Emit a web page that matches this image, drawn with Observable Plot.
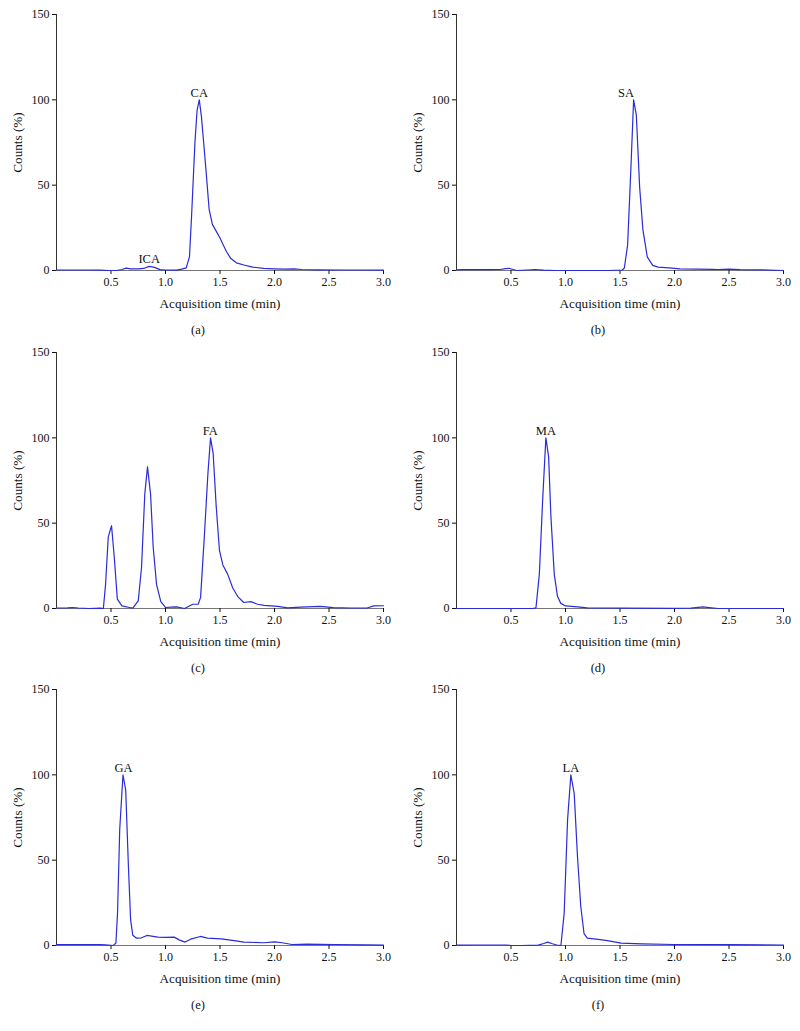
<!DOCTYPE html>
<html><head><meta charset="utf-8">
<script src="https://cdn.jsdelivr.net/npm/d3@7"></script>
<script src="https://cdn.jsdelivr.net/npm/@observablehq/plot@0.6"></script>
<style>
body{margin:0;background:#fff;font-family:"Liberation Serif",serif;}
#root{position:relative;width:800px;height:1031px;overflow:hidden;}
.panel{position:absolute;width:400px;height:340px;}
.cap{position:absolute;font-size:12.5px;color:#111;transform:translate(-50%,-50%);white-space:nowrap;}
.panel svg, .panel svg g, .panel svg text{font-family:"Liberation Serif",serif !important;}
.panel svg g[aria-label="x-axis tick label"], .panel svg g[aria-label="y-axis tick label"]{font-size:12px !important;}
.panel svg g[aria-label="x-axis label"], .panel svg g[aria-label="y-axis label"]{font-size:13.2px !important;}
</style></head><body><div id="root"></div>
<script>
// ---- data ----
const xTicks = [0.5, 1.0, 1.5, 2.0, 2.5, 3.0];
const yTicks = [0, 50, 100, 150];
const captions = ["(a)", "(b)", "(c)", "(d)", "(e)", "(f)"];

const timeA = [0,0.1,0.2,0.3,0.4,0.48,0.55,0.6,0.64,0.68,0.75,0.8,0.85,0.9,0.95,1.0,1.1,1.15,1.19,1.22,1.24,1.27,1.29,1.31,1.33,1.35,1.37,1.40,1.43,1.47,1.50,1.53,1.56,1.60,1.65,1.72,1.80,1.90,2.0,2.1,2.18,2.25,2.4,2.6,2.8,3.0];
const countsA = [0.3,0.3,0.3,0.3,0.2,0,0,0.6,1.4,1.0,1.0,1.2,2.4,1.8,0.5,0.3,0.2,0.8,1.5,8,33,75,94,100,90,75,60,36,27,22.5,19,15,11,7,4.5,3.2,2.0,1.3,1.0,0.8,1.0,0.6,0.4,0.3,0.3,0.2];
const labelsA = ["ICA", "CA"]; const labelTimeA = [0.85, 1.31]; const labelCountA = [2.5, 100];

const timeB = [0,0.05,0.15,0.3,0.4,0.45,0.48,0.52,0.55,0.65,0.72,0.8,0.9,1.0,1.2,1.4,1.52,1.54,1.57,1.60,1.625,1.65,1.68,1.71,1.75,1.80,1.85,1.95,2.05,2.2,2.35,2.4,2.5,2.6,2.8,3.0];
const countsB = [0.4,0.6,0.5,0.5,0.6,1.1,1.3,0.6,0,0.3,0.6,0.2,0,0,0,0,0.3,1.5,15,60,100,91,49,24,8,3,2,1.5,0.9,0.8,0.7,0.6,0.8,0.5,0.4,0];
const labelsB = ["SA"]; const labelTimeB = [1.555]; const labelCountB = [100];

const timeC = [0,0.1,0.15,0.2,0.3,0.4,0.43,0.45,0.475,0.505,0.53,0.558,0.6,0.67,0.7,0.75,0.78,0.81,0.835,0.863,0.887,0.918,0.957,1.0,1.05,1.1,1.175,1.25,1.3,1.322,1.358,1.389,1.413,1.437,1.465,1.495,1.526,1.571,1.617,1.663,1.718,1.784,1.845,1.906,2.03,2.12,2.24,2.42,2.54,2.70,2.85,2.91,3.0];
const countsC = [0.3,0.4,0.6,0.3,0,0.2,0,14,42,48.5,30,5.5,1.5,0.6,0.2,4.5,24,67,83,67,36,14,4,0.6,0.8,1.0,0,2.5,2.5,6.5,44,79,100,91,60,34,25.5,20,12,7,3.5,4.0,2.5,1.8,1.2,0.4,0.8,1.2,0.5,0.3,0.3,1.5,1.6];
const labelsC = ["FA"]; const labelTimeC = [1.41]; const labelCountC = [100];

const timeD = [0,0.5,0.7,0.729,0.76,0.79,0.82,0.845,0.866,0.897,0.927,0.957,1.0,1.11,1.2,1.5,2.0,2.15,2.22,2.26,2.32,2.4,3.0];
const countsD = [0,0,0,0.4,20,63,100,89,54,20,7,3,1.5,1,0.4,0.2,0.1,0.2,0.7,0.9,0.5,0,0];
const labelsD = ["MA"]; const labelTimeD = [0.82]; const labelCountD = [100];

const timeE = [0,0.2,0.4,0.45,0.52,0.545,0.56,0.58,0.61,0.635,0.66,0.68,0.70,0.735,0.78,0.83,0.93,1.0,1.08,1.125,1.18,1.23,1.32,1.385,1.51,1.63,1.72,1.9,2.0,2.07,2.16,2.3,2.55,2.85,3.0];
const countsE = [0.5,0.5,0.5,0.4,0,1.4,19,68,100,91,46,15,6,4.3,4.5,5.9,4.9,4.8,4.9,3.3,2.0,3.7,5.3,4.3,3.9,2.9,2.0,1.6,2.1,1.6,0.6,0.8,0.6,0.4,0.2];
const labelsE = ["GA"]; const labelTimeE = [0.615]; const labelCountE = [100];

const timeF = [0,0.2,0.45,0.5,0.6,0.75,0.8,0.836,0.88,0.92,0.958,0.988,1.019,1.049,1.08,1.11,1.14,1.17,1.2,1.3,1.385,1.51,1.7,2.0,2.5,3.0];
const countsF = [0.2,0.3,0.3,0,0,0.2,1.2,2.0,1.0,0.3,0,19,73.6,100,89,52,23,7,4.3,3.6,2.9,1.4,1.0,0.6,0.5,0.3];
const labelsF = ["LA"]; const labelTimeF = [1.05]; const labelCountF = [100];

// ---- build ----
const lineColor = "#2b2bd8";
const panels = [
  [timeA, countsA, labelsA, labelTimeA, labelCountA],
  [timeB, countsB, labelsB, labelTimeB, labelCountB],
  [timeC, countsC, labelsC, labelTimeC, labelCountC],
  [timeD, countsD, labelsD, labelTimeD, labelCountD],
  [timeE, countsE, labelsE, labelTimeE, labelCountE],
  [timeF, countsF, labelsF, labelTimeF, labelCountF]
];
const rowTops = [0, 338, 675];
const root = document.getElementById("root");

panels.forEach(([t, c, labs, lt, lc], i) => {
  const col = i % 2, row = Math.floor(i / 2);
  const series = t.map((v, k) => ({t: v, c: c[k]}));
  const ann = labs.map((s, k) => ({x: lt[k], y: lc[k], label: s}));
  const chart = Plot.plot({
    width: 400, height: 340,
    marginLeft: 56, marginRight: 17, marginTop: 14, marginBottom: 70,
    style: {fontFamily: '"Liberation Serif", serif', fontSize: "12px", color: "#111", background: "transparent"},
    x: {domain: [0, 3]},
    y: {domain: [0, 150]},
    marks: [
      Plot.ruleX([0], {stroke: "#333", strokeWidth: 1}),
      Plot.ruleY([0], {stroke: "#777", strokeWidth: 1}),
      Plot.axisX({ticks: xTicks, tickFormat: d => d.toFixed(1), tickSize: 4, tickPadding: 3, fontSize: 12,
        label: "Acquisition time (min)", labelAnchor: "center", labelArrow: "none", labelOffset: 37}),
      Plot.axisY({ticks: yTicks, tickSize: 4, tickPadding: 3, fontSize: 12,
        label: "Counts (%)", labelAnchor: "center", labelArrow: "none", labelOffset: 44}),
      Plot.line(series, {x: "t", y: "c", stroke: lineColor, strokeWidth: 1.2}),
      Plot.text(ann, {x: "x", y: "y", text: "label", dy: -7, fontSize: 12.5, fill: "#111"})
    ]
  });
  const div = document.createElement("div");
  div.className = "panel";
  div.style.left = (col * 400) + "px";
  div.style.top = rowTops[row] + "px";
  div.appendChild(chart);
  root.appendChild(div);
  const cap = document.createElement("div");
  cap.className = "cap";
  cap.textContent = captions[i];
  cap.style.left = (col * 400 + 198) + "px";
  cap.style.top = (rowTops[row] + 330) + "px";
  root.appendChild(cap);
});
</script></body></html>
